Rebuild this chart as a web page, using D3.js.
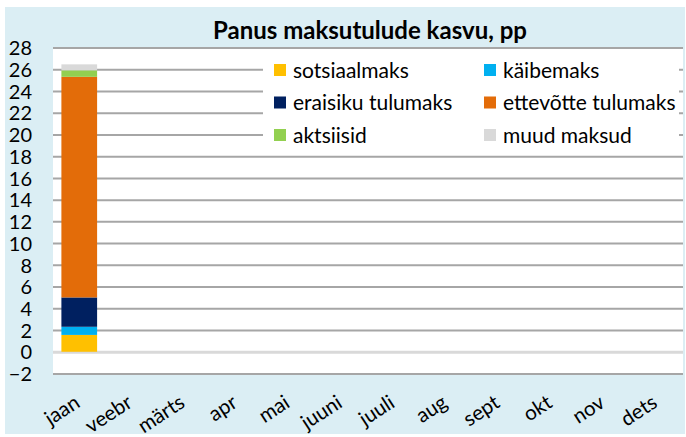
<!DOCTYPE html>
<html>
<head>
<meta charset="utf-8">
<script src="https://cdn.jsdelivr.net/npm/d3@7"></script>
<style>
    body { margin: 0; background: #fff; }
    text { font-family: Lato, "Noto Sans", sans-serif; fill: #000; }
</style>
</head>
<body>
<div id="chart-area"></div>
<script>

// months on the x axis
let months = ['jaan', 'veebr', 'märts', 'apr', 'mai', 'juuni', 'juuli', 'aug', 'sept', 'okt', 'nov', 'dets'];

// series names (stack order, bottom to top)
let seriesNames = ['sotsiaalmaks', 'käibemaks', 'eraisiku tulumaks', 'ettevõtte tulumaks', 'aktsiisid', 'muud maksud'];

// contributions, pp (only January is published)
let sotsiaalmaks = [1.55, null, null, null, null, null, null, null, null, null, null, null];
let kaibemaks = [0.75, null, null, null, null, null, null, null, null, null, null, null];
let eraisikuTulumaks = [2.7, null, null, null, null, null, null, null, null, null, null, null];
let ettevotteTulumaks = [20.3, null, null, null, null, null, null, null, null, null, null, null];
let aktsiisid = [0.6, null, null, null, null, null, null, null, null, null, null, null];
let muudMaksud = [0.55, null, null, null, null, null, null, null, null, null, null, null];

// y axis ticks
let yTicks = [-2, 0, 2, 4, 6, 8, 10, 12, 14, 16, 18, 20, 22, 24, 26, 28];


class StackedBarVis {

    constructor(_parentElement) {
        this.parentElement = _parentElement;
        this.initVis();
    }

    initVis() {
        let vis = this;

        vis.width = 686;
        vis.height = 437;
        vis.plot = {left: 53, right: 683, top: 47.5, bottom: 373.5};

        vis.colors = {
            'sotsiaalmaks': '#FFC000',
            'käibemaks': '#00B0F0',
            'eraisiku tulumaks': '#002060',
            'ettevõtte tulumaks': '#E36C09',
            'aktsiisid': '#92D050',
            'muud maksud': '#D9D9D9'
        };

        vis.svg = d3.select("#" + vis.parentElement).append("svg")
            .attr("width", vis.width)
            .attr("height", vis.height);

        // chart background
        vis.svg.append("rect")
            .attr("x", 5).attr("y", 7)
            .attr("width", 680).attr("height", 427)
            .attr("fill", "#DBEEF4");

        vis.svg.append("rect")
            .attr("x", vis.plot.left).attr("y", vis.plot.top)
            .attr("width", vis.plot.right - vis.plot.left)
            .attr("height", vis.plot.bottom - vis.plot.top)
            .attr("fill", "#fff");

        vis.svg.append("text")
            .attr("x", 370).attr("y", 39)
            .attr("text-anchor", "middle")
            .style("font-size", "24px")
            .style("font-weight", "bold")
            .text("Panus maksutulude kasvu, pp");

        vis.x = d3.scaleBand()
            .domain(months)
            .range([vis.plot.left, vis.plot.right])
            .paddingInner(0.32)
            .paddingOuter(0.16);

        vis.y = d3.scaleLinear()
            .domain([d3.min(yTicks), d3.max(yTicks)])
            .range([vis.plot.bottom, vis.plot.top]);

        vis.wrangleData();
    }

    wrangleData() {
        let vis = this;

        let seriesValues = [sotsiaalmaks, kaibemaks, eraisikuTulumaks, ettevotteTulumaks, aktsiisid, muudMaksud];

        vis.rows = months.map((m, i) => {
            let row = {month: m};
            seriesNames.forEach((s, j) => { row[s] = seriesValues[j][i] || 0; });
            return row;
        });

        vis.stacked = d3.stack().keys(seriesNames)(vis.rows);

        vis.updateVis();
    }

    updateVis() {
        let vis = this;

        // gridlines + tick labels
        let yAxis = d3.axisLeft(vis.y)
            .tickValues(yTicks)
            .tickSize(-(vis.plot.right - vis.plot.left))
            .tickPadding(21)
            .tickFormat(d3.format("d"));

        let yg = vis.svg.append("g")
            .attr("transform", "translate(" + vis.plot.left + ",0)")
            .call(yAxis);
        yg.select(".domain").remove();
        yg.selectAll("line")
            .attr("stroke", d => d === 0 ? "#D9D9D9" : "#A6A6A6")
            .attr("stroke-width", d => d === 0 ? 3 : 2);
        yg.selectAll("text")
            .style("font-size", "20px")
            .attr("dy", "0.36em");

        // bars
        vis.svg.append("g").selectAll("g")
            .data(vis.stacked)
            .enter().append("g")
            .attr("fill", d => vis.colors[d.key])
            .selectAll("rect")
            .data(d => d.filter(p => p[1] - p[0] > 0))
            .enter().append("rect")
            .attr("x", d => vis.x(d.data.month))
            .attr("width", vis.x.bandwidth())
            .attr("y", d => vis.y(d[1]))
            .attr("height", d => vis.y(d[0]) - vis.y(d[1]));

        // month labels
        vis.svg.append("g").selectAll("text")
            .data(months)
            .enter().append("text")
            .attr("text-anchor", "end")
            .attr("transform", d => "translate(" + (vis.x(d) + vis.x.bandwidth() / 2 + 2) + ",406) rotate(-33)")
            .style("font-size", "20.5px")
            .text(d => d);

        // legend
        let legend = vis.svg.append("g");
        legend.append("rect")
            .attr("x", 263).attr("y", 57)
            .attr("width", 416).attr("height", 94)
            .attr("fill", "#fff");

        let items = legend.selectAll("g.item")
            .data(seriesNames)
            .enter().append("g")
            .attr("class", "item")
            .attr("transform", (d, i) => "translate(" + (i % 2 === 0 ? 274 : 484) + "," + (70 + Math.floor(i / 2) * 32.5) + ")");

        items.append("rect")
            .attr("x", 0).attr("y", -6)
            .attr("width", 12).attr("height", 12)
            .attr("fill", d => vis.colors[d]);

        items.append("text")
            .attr("x", 19)
            .attr("dy", "0.36em")
            .style("font-size", "21px")
            .text(d => d);
    }
}

new StackedBarVis("chart-area");

</script>
</body>
</html>
